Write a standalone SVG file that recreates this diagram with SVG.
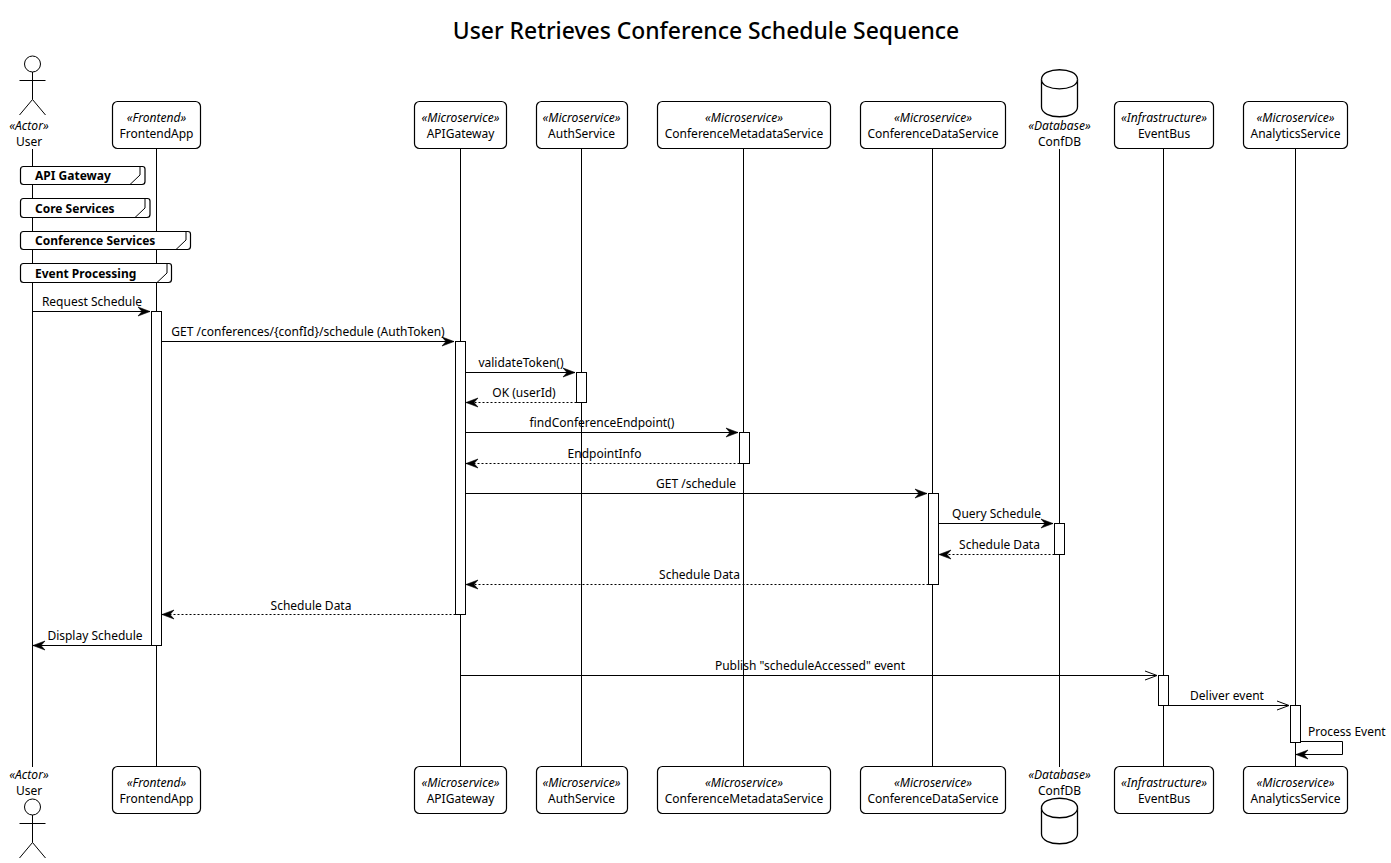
<svg xmlns="http://www.w3.org/2000/svg" width="1391" height="863" viewBox="0 0 1391 863">
<style>
text{font-family:"Noto Sans","DejaVu Sans",sans-serif;font-size:12px;fill:#000}
.m{text-anchor:middle}
.st{font-style:italic;text-anchor:middle;font-size:12.1px}
.t{font-size:22.9px;font-weight:550;text-anchor:middle}
.b{font-weight:700}
.box{fill:#fff;stroke:#000;stroke-width:1.2}
.db{fill:#fff;stroke:#000;stroke-width:1.3}
.ll{stroke:#000;stroke-width:1;fill:none}
.a{fill:#fff;stroke:#000;stroke-width:1}
.c{stroke:#000;stroke-width:1;fill:none}
.d{stroke-dasharray:2 2}
</style>
<defs>
<marker id="f" markerUnits="userSpaceOnUse" markerWidth="14" markerHeight="12" refX="13" refY="6" orient="auto"><path d="M1 1.500L13 6L1 10.500L5 6Z" fill="#000" stroke="#000" stroke-width=".6"/></marker>
<marker id="o" markerUnits="userSpaceOnUse" markerWidth="14" markerHeight="12" refX="13" refY="6" orient="auto"><path d="M1 1.500L13 6L1 10.500" fill="none" stroke="#000"/></marker>
</defs>
<rect width="1391" height="863" fill="#fff"/>
<text class="t" x="706" y="39">User Retrieves Conference Schedule Sequence</text>
<g id="lifelines">
<path class="ll" d="M32.500 149V767M156.500 149V767M460.500 149V767M581.500 149V767M743.500 149V767M932.500 149V767M1059.500 149V767M1163.500 149V767M1295.500 149V767"/>
</g>
<g id="notes">
<g id="note-api"><path class="box" d="M23.500 166.500H142.500Q145 166.500 145 169V181.500Q145 184.500 142 184.500H23.500Q20.500 184.500 20.500 181.500V169.500Q20.500 166.500 23.500 166.500Z"/><path class="c" d="M130 184.500L140 175V166.500"/><text class="b" x="35" y="180">API Gateway</text></g>
<g id="note-core"><path class="box" d="M23.500 198.500H147.500Q150 198.500 150 201V214.500Q150 217.500 147 217.500H23.500Q20.500 217.500 20.500 214.500V201.500Q20.500 198.500 23.500 198.500Z"/><path class="c" d="M135 217.500L145 208V198.500"/><text class="b" x="35" y="213">Core Services</text></g>
<g id="note-conf"><path class="box" d="M23.500 231.500H188Q190.500 231.500 190.500 234V246.500Q190.500 249.500 187.500 249.500H23.500Q20.500 249.500 20.500 246.500V234.500Q20.500 231.500 23.500 231.500Z"/><path class="c" d="M176 249.500L186 240V231.500"/><text class="b" x="35" y="245">Conference Services</text></g>
<g id="note-event"><path class="box" d="M23.500 263.500H169Q171.500 263.500 171.500 266V279.500Q171.500 282.500 168.500 282.500H23.500Q20.500 282.500 20.500 279.500V266.500Q20.500 263.500 23.500 263.500Z"/><path class="c" d="M157 282.500L167 273V263.500"/><text class="b" x="35" y="278">Event Processing</text></g>
</g>
<g id="activations">
<rect class="a" x="151.500" y="311.500" width="10" height="334"/>
<rect class="a" x="455.500" y="341.500" width="10" height="273"/>
<rect class="a" x="576.500" y="372.500" width="10" height="30"/>
<rect class="a" x="739.500" y="432.500" width="10" height="31"/>
<rect class="a" x="928.500" y="493.500" width="10" height="91"/>
<rect class="a" x="1054.500" y="523.500" width="10" height="31"/>
<rect class="a" x="1158.500" y="675.500" width="10" height="30"/>
<rect class="a" x="1290.500" y="705.500" width="10" height="37"/>
</g>
<g id="connectors">
<path class="c" marker-end="url(#f)" d="M32.500 311.500H150"/>
<path class="c" marker-end="url(#f)" d="M161.500 341.500H454"/>
<path class="c" marker-end="url(#f)" d="M465.500 372.500H575"/>
<path class="c d" marker-end="url(#f)" d="M576.500 402.500H466"/>
<path class="c" marker-end="url(#f)" d="M465.500 432.500H738"/>
<path class="c d" marker-end="url(#f)" d="M739.500 463.500H466"/>
<path class="c" marker-end="url(#f)" d="M465.500 493.500H927"/>
<path class="c" marker-end="url(#f)" d="M938.500 523.500H1053"/>
<path class="c d" marker-end="url(#f)" d="M1054.500 554.500H939"/>
<path class="c d" marker-end="url(#f)" d="M928.500 584.500H466"/>
<path class="c d" marker-end="url(#f)" d="M455.500 614.500H162"/>
<path class="c" marker-end="url(#f)" d="M151.500 645.500H33"/>
<path class="c" marker-end="url(#o)" d="M460.500 675.500H1157"/>
<path class="c" marker-end="url(#o)" d="M1168.500 705.500H1289"/>
<path class="c" marker-end="url(#f)" d="M1300.500 741.500H1342.500V754.500H1296"/>
</g>
<g id="labels">
<text class="m" x="92" y="306">Request Schedule</text>
<text class="m" x="308" y="336">GET /conferences/{confId}/schedule (AuthToken)</text>
<text class="m" x="521" y="367">validateToken()</text>
<text class="m" x="524" y="397">OK (userId)</text>
<text class="m" x="602" y="427">findConferenceEndpoint()</text>
<text class="m" x="604.500" y="458">EndpointInfo</text>
<text class="m" x="696" y="488">GET /schedule</text>
<text class="m" x="996.500" y="518">Query Schedule</text>
<text class="m" x="999.500" y="549">Schedule Data</text>
<text class="m" x="699.500" y="579">Schedule Data</text>
<text class="m" x="311" y="610">Schedule Data</text>
<text class="m" x="95" y="640">Display Schedule</text>
<text class="m" x="810" y="670">Publish "scheduleAccessed" event</text>
<text class="m" x="1227" y="700">Deliver event</text>
<text x="1308" y="736">Process Event</text>
</g>
<g id="node-user-top"><circle class="c" cx="32.500" cy="64" r="8"/><path class="c" d="M32.500 72V99.500M19.500 80.500H45.500M32.500 99.500L19.500 115M32.500 99.500L45.500 115"/><text class="st" x="29" y="130">«Actor»</text><text class="m" x="29" y="146">User</text></g>
<g id="node-user-bottom"><text class="st" x="29" y="779">«Actor»</text><text class="m" x="29" y="795">User</text><circle class="c" cx="32.500" cy="807" r="8"/><path class="c" d="M32.500 815V842.500M19.500 823.500H45.500M32.500 842.500L19.500 858M32.500 842.500L45.500 858"/></g>
<g id="node-frontend-top"><rect class="box" x="112.500" y="101.500" width="88" height="47" rx="5"/><text class="st" x="156.500" y="122">«Frontend»</text><text class="m" x="156.500" y="138">FrontendApp</text></g>
<g id="node-frontend-bottom"><rect class="box" x="112.500" y="766.500" width="88" height="47" rx="5"/><text class="st" x="156.500" y="787">«Frontend»</text><text class="m" x="156.500" y="803">FrontendApp</text></g>
<g id="node-api-top"><rect class="box" x="414.500" y="101.500" width="92" height="47" rx="5"/><text class="st" x="460.500" y="122">«Microservice»</text><text class="m" x="460.500" y="138">APIGateway</text></g>
<g id="node-api-bottom"><rect class="box" x="414.500" y="766.500" width="92" height="47" rx="5"/><text class="st" x="460.500" y="787">«Microservice»</text><text class="m" x="460.500" y="803">APIGateway</text></g>
<g id="node-auth-top"><rect class="box" x="536.500" y="101.500" width="91" height="47" rx="5"/><text class="st" x="581.500" y="122">«Microservice»</text><text class="m" x="581.500" y="138">AuthService</text></g>
<g id="node-auth-bottom"><rect class="box" x="536.500" y="766.500" width="91" height="47" rx="5"/><text class="st" x="581.500" y="787">«Microservice»</text><text class="m" x="581.500" y="803">AuthService</text></g>
<g id="node-meta-top"><rect class="box" x="657.500" y="101.500" width="173" height="47" rx="5"/><text class="st" x="744" y="122">«Microservice»</text><text class="m" x="744" y="138">ConferenceMetadataService</text></g>
<g id="node-meta-bottom"><rect class="box" x="657.500" y="766.500" width="173" height="47" rx="5"/><text class="st" x="744" y="787">«Microservice»</text><text class="m" x="744" y="803">ConferenceMetadataService</text></g>
<g id="node-data-top"><rect class="box" x="860.500" y="101.500" width="145" height="47" rx="5"/><text class="st" x="933" y="122">«Microservice»</text><text class="m" x="933" y="138">ConferenceDataService</text></g>
<g id="node-data-bottom"><rect class="box" x="860.500" y="766.500" width="145" height="47" rx="5"/><text class="st" x="933" y="787">«Microservice»</text><text class="m" x="933" y="803">ConferenceDataService</text></g>
<g id="node-db-top"><path class="db" d="M1041.500 79.500C1041.500 66.500 1077.500 66.500 1077.500 79.500V107C1077.500 120 1041.500 120 1041.500 107Z"/><path class="db" fill="none" d="M1041.500 79.500C1041.500 92 1077.500 92 1077.500 79.500"/><text class="st" x="1059.500" y="130">«Database»</text><text class="m" x="1059.500" y="146">ConfDB</text></g>
<g id="node-db-bottom"><text class="st" x="1059.500" y="779">«Database»</text><text class="m" x="1059.500" y="795">ConfDB</text><path class="db" d="M1041.500 808C1041.500 795 1077.500 795 1077.500 808V834C1077.500 847 1041.500 847 1041.500 834Z"/><path class="db" fill="none" d="M1041.500 808C1041.500 821 1077.500 821 1077.500 808"/></g>
<g id="node-bus-top"><rect class="box" x="1114.500" y="101.500" width="99" height="47" rx="5"/><text class="st" x="1164" y="122">«Infrastructure»</text><text class="m" x="1164" y="138">EventBus</text></g>
<g id="node-bus-bottom"><rect class="box" x="1114.500" y="766.500" width="99" height="47" rx="5"/><text class="st" x="1164" y="787">«Infrastructure»</text><text class="m" x="1164" y="803">EventBus</text></g>
<g id="node-analytics-top"><rect class="box" x="1243.500" y="101.500" width="104" height="47" rx="5"/><text class="st" x="1295.500" y="122">«Microservice»</text><text class="m" x="1295.500" y="138">AnalyticsService</text></g>
<g id="node-analytics-bottom"><rect class="box" x="1243.500" y="766.500" width="104" height="47" rx="5"/><text class="st" x="1295.500" y="787">«Microservice»</text><text class="m" x="1295.500" y="803">AnalyticsService</text></g>
</svg>
